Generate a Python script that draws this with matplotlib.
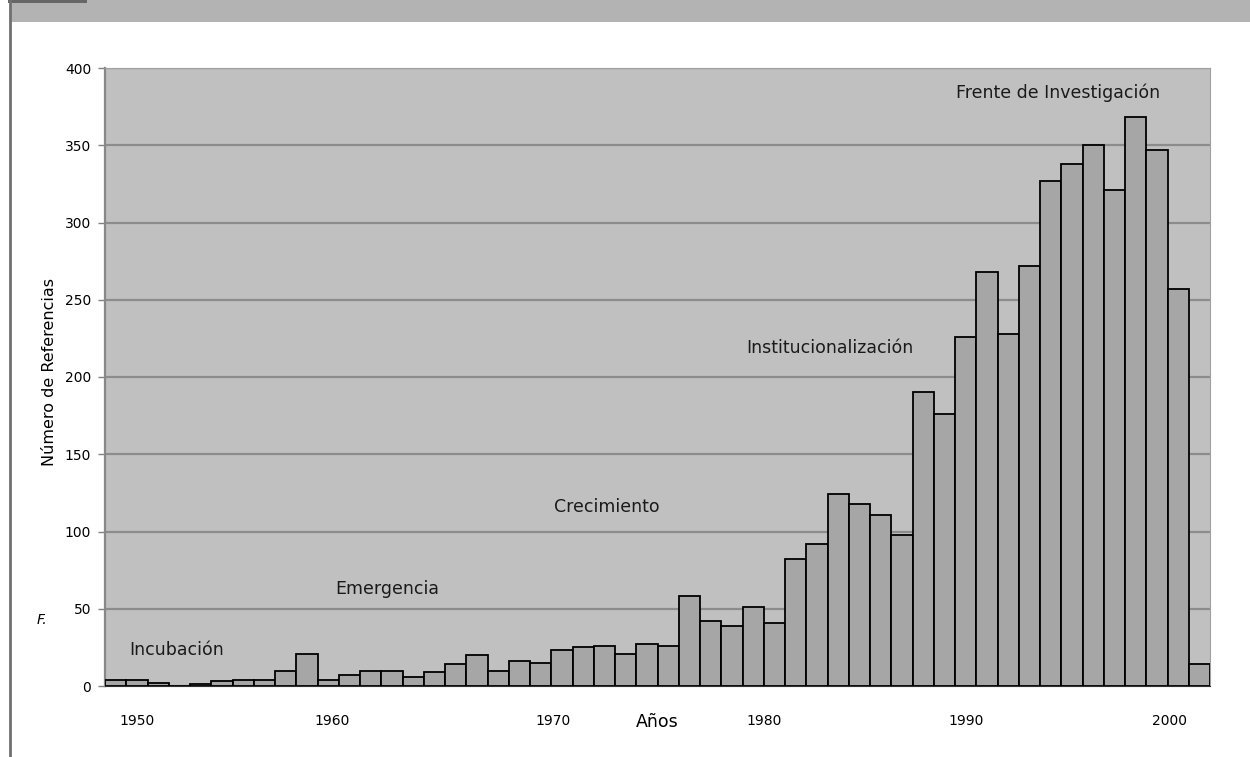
import matplotlib.pyplot as plt
from matplotlib.lines import Line2D
from matplotlib.patches import Rectangle

# referencias por año, 1949-2000
years = list(range(1949, 2001))
referencias = [
    4, 4, 2, 0, 1, 3, 4, 4, 10, 21,           # 1949-1958
    4, 7, 10, 10, 6, 9, 14, 20, 10, 16,       # 1959-1968
    15, 23, 25, 26, 21, 27, 26, 58, 42, 39,   # 1969-1978
    51, 41, 82, 92, 124, 118, 111, 98, 190, 176,  # 1979-1988
    226, 268, 228, 272, 327, 338, 350, 321, 368, 347, 257, 14,  # 1989-2000
]

tick_labels = ['1950', '1960', '1970', '1980', '1990', '2000']
fases = ['Incubación', 'Emergencia', 'Crecimiento',
         'Institucionalización', 'Frente de Investigación']

# layout: where the scanned labels sit (data coords)
tick_pos = [1950.0, 1959.2, 1969.6, 1979.5, 1989.0, 1998.6]
fase_pos = [(1951.85, 23), (1961.8, 63), (1972.1, 116),
            (1982.6, 219), (1993.35, 384)]

plt.rcParams['font.family'] = 'DejaVu Sans'

fig = plt.figure(figsize=(12.5, 7.57), dpi=100)
fig.patch.set_facecolor('white')

# page decorations around the chart (banner, margin line)
fig.add_artist(Rectangle((10 / 1250, 1 - 22 / 757), 1, 22 / 757,
                         transform=fig.transFigure, color='#b3b3b3', lw=0))
fig.add_artist(Rectangle((8 / 1250, 1 - 3 / 757), 79 / 1250, 3 / 757,
                         transform=fig.transFigure, color='#666666', lw=0))
fig.add_artist(Line2D([9.5 / 1250] * 2, [0, 1], transform=fig.transFigure,
                      color='#707070', lw=2))
fig.text(0.029, 0.181, 'F.', fontsize=10, style='italic', va='center')

ax = fig.add_axes([105 / 1250, 71 / 757, 1105 / 1250, 618 / 757])
ax.set_facecolor('#c0c0c0')
ax.bar(years, referencias, width=1.0, color='#a6a6a6',
       edgecolor='black', linewidth=1.3, zorder=3)
ax.set_xlim(1948.5, 2000.5)
ax.set_ylim(0, 400)
ax.set_yticks(range(0, 401, 50))
ax.yaxis.grid(True, color='#8c8c8c', linewidth=1.6)
ax.set_axisbelow(True)

ax.set_xticks(tick_pos)
ax.set_xticklabels(tick_labels)
ax.tick_params(axis='x', length=0, pad=20, labelsize=10)
ax.tick_params(axis='y', length=5, width=1, color='#808080', pad=5, labelsize=10)

ax.spines['left'].set_color('#888888')
ax.spines['left'].set_linewidth(1.6)
ax.spines['top'].set_color('#a0a0a0')
ax.spines['right'].set_color('#a0a0a0')
ax.spines['bottom'].set_color('#303030')

for fase, (fx, fy) in zip(fases, fase_pos):
    ax.text(fx, fy, fase, fontsize=12.5, ha='center', va='center',
            color='#1a1a1a', zorder=4)

ax.text(0.5, -0.058, 'Años', transform=ax.transAxes, fontsize=12.5,
        ha='center', va='center')
ax.text(-0.0498, 0.508, 'Número de Referencias', transform=ax.transAxes,
        fontsize=11.5, rotation=90, ha='center', va='center')

fig.savefig('out.png', dpi=100)
